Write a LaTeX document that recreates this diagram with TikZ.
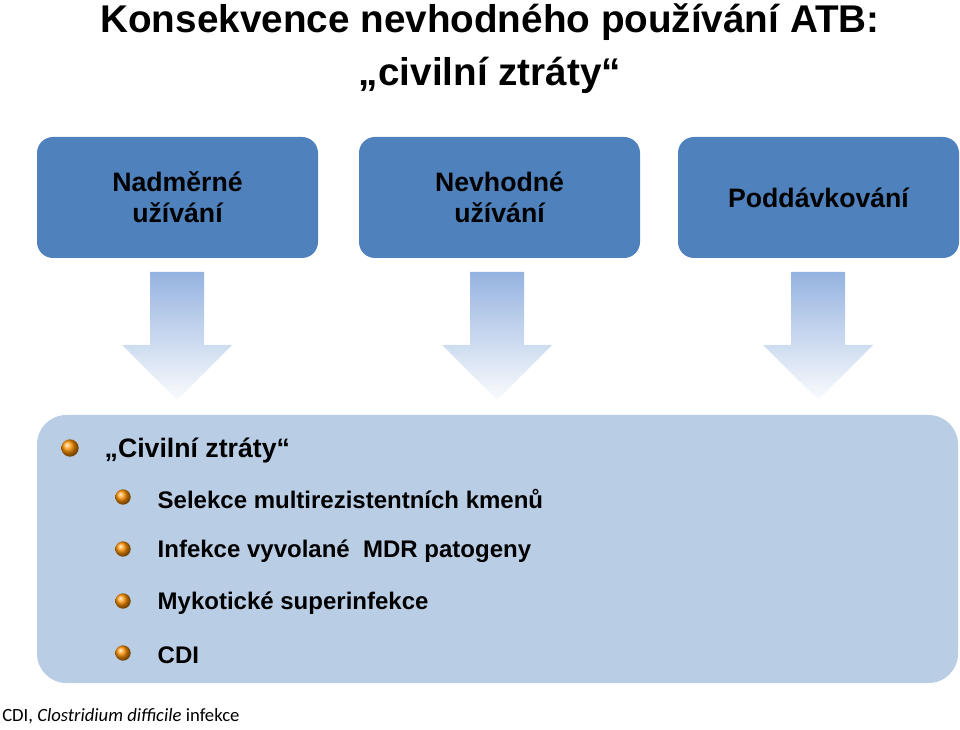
\documentclass[tikz,border=0pt]{standalone}
\usepackage{fontspec}
\setmainfont{Liberation Sans}
\newfontfamily\carlitofn{Carlito}
\begin{document}
\begin{tikzpicture}[x=0.75pt,y=-0.75pt,
  topbox/.style={fill=boxblue,rounded corners=12pt,minimum width=210.75pt,minimum height=90.75pt,align=center,font=\fontsize{20}{23}\selectfont\bfseries},
  bul/.style={circle,inner sep=0pt,minimum size=13pt,ball color=orange!85!yellow},
  sbul/.style={circle,inner sep=0pt,minimum size=11.5pt,ball color=orange!85!yellow},
  itm/.style={anchor=west,font=\fontsize{18}{20}\selectfont\bfseries}]
\definecolor{boxblue}{HTML}{4F81BD}
\definecolor{lightbox}{HTML}{B9CDE5}
\definecolor{arrtop}{HTML}{95B3E0}
\useasboundingbox (0,0) rectangle (960,730);
\node[font=\fontsize{29}{32}\selectfont\bfseries] (t1) at (490,22) {Konsekvence nevhodného používání ATB:};
\node[font=\fontsize{29}{32}\selectfont\bfseries] (t2) at (490,75) {„civilní ztráty“};
\node[topbox] (b1) at (177.5,197.5) {Nadměrné\\užívání};
\node[topbox] (b2) at (499.5,197.5) {Nevhodné\\užívání};
\node[topbox] (b3) at (818.5,197.5) {Poddávkování};
\foreach \c in {177,497,818}{
  \shade[top color=arrtop,bottom color=white!95!arrtop]
   (\c-27,272) -- (\c+27,272) -- (\c+27,345) -- (\c+55,345) -- (\c,400) -- (\c-55,345) -- (\c-27,345) -- cycle;
}
\node[fill=lightbox,rounded corners=22pt,minimum width=690.75pt,minimum height=201pt] (big) at (497.5,549) {};
\node[bul] (u0) at (70,448) {};
\node[itm,font=\fontsize{20}{22}\selectfont\bfseries] (l0) at (100,450) {„Civilní ztráty“};
\node[sbul] (u1) at (123,497) {};
\node[itm] (l1) at (153,499) {Selekce multirezistentních kmenů};
\node[sbul] (u2) at (123,549) {};
\node[itm] (l2) at (153,551) {Infekce vyvolané \ MDR patogeny};
\node[sbul] (u3) at (123,601) {};
\node[itm] (l3) at (153,603) {Mykotické superinfekce};
\node[sbul] (u4) at (123,653) {};
\node[itm] (l4) at (153,655) {CDI};
\node[anchor=west,font=\carlitofn\fontsize{14}{16}\selectfont,inner sep=0pt] (fn) at (2,716) {CDI, \textit{Clostridium difficile} infekce};
\end{tikzpicture}
\end{document}
